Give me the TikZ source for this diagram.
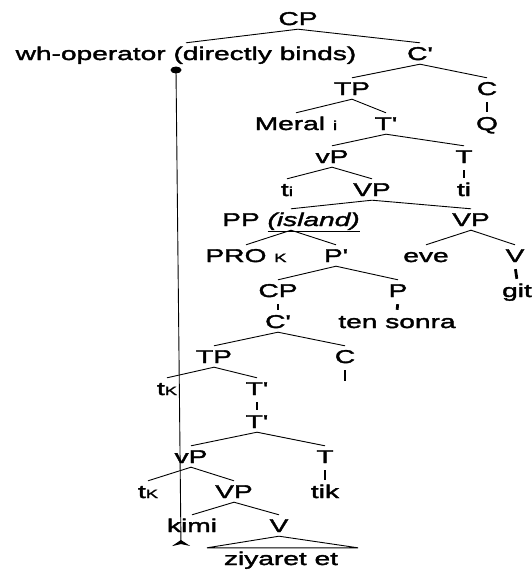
\documentclass[tikz,border=0pt]{standalone}
\usepackage{fontspec}
\setmainfont{Liberation Sans}[FakeStretch=1.52,FakeBold=2,Ligatures=TeXOff]
\usetikzlibrary{arrows.meta}
\newcommand\sm[1]{{\fontsize{13}{14}\selectfont #1}}
\newcommand\smk{{\fontsize{12}{14}\selectfont K}}
\newcommand\pr{'}
\begin{document}
\begin{tikzpicture}[x=1pt,y=-1pt,
  lab/.style={anchor=base, inner xsep=0pt, inner ysep=4pt, text height=13pt, text depth=0pt, font=\fontsize{18.5}{20}\selectfont},
  edge/.style={line width=0.9pt},
  bar/.style={line width=2.8pt, shorten <=3pt, shorten >=1pt},
]
\useasboundingbox (0,0) rectangle (531,570);
\node[lab] (cp) at (298,25) {CP};
\node[lab] (wh) at (186,60) {wh-operator (directly binds)};
\node[lab] (c1) at (420,60) {C\pr};
\node[lab] (tp1) at (352,95) {TP};
\node[lab] (c2) at (487,95) {C};
\node[lab] (meral) at (296,130) {Meral \sm{i}};
\node[lab] (t1) at (386,130) {T\pr};
\node[lab] (q) at (487,130) {Q};
\node[lab] (vp1) at (332,163) {vP};
\node[lab] (t2) at (464,163) {T};
\node[lab] (ti1) at (287,196) {t\sm{i}};
\node[lab] (vpA) at (372,196) {VP};
\node[lab] (ti2) at (464,196) {ti};
\node[lab] (pp) at (291,226) {PP \underline{\textit{(island)}}};
\node[lab] (vpB) at (471,226) {VP};
\node[lab] (pro) at (246,262) {PRO \smk};
\node[lab] (p1) at (336,262) {P\pr};
\node[lab] (eve) at (426,262) {eve};
\node[lab] (v1) at (515,262) {V};
\node[lab] (cp2) at (278,297) {CP};
\node[lab] (p2) at (398,297) {P};
\node[lab] (git) at (517,297) {git};
\node[lab] (c3) at (278,328) {C\pr};
\node[lab] (ts) at (397,328) {ten sonra};
\node[lab] (tp2) at (214,363) {TP};
\node[lab] (c4) at (345,363) {C};
\node[lab] (tk1) at (167,395) {t\smk};
\node[lab] (t3) at (257,395) {T\pr};
\node[lab] (t4) at (257,428) {T\pr};
\node[lab] (vp2) at (191,463) {vP};
\node[lab] (t5) at (325,463) {T};
\node[lab] (tk2) at (148,498) {t\smk};
\node[lab] (vpC) at (234,498) {VP};
\node[lab] (tik) at (325,498) {tik};
\node[lab] (kimi) at (192,532) {kimi};
\node[lab] (v2) at (279,532) {V};
\node[lab] (zet) at (281,565) {ziyaret et};
\coordinate (c4end) at (345,382);
% edges
\draw[edge] (wh.north) -- (cp.south) -- (c1.north);
\draw[edge] (tp1.north) -- (c1.south) -- (c2.north);
\draw[edge] (meral.north) -- (tp1.south) -- (t1.north);
\draw[edge] (vp1.north) -- (t1.south) -- (t2.north);
\draw[edge] (ti1.north) -- (vp1.south) -- (vpA.north);
\draw[edge] (pp.north) -- (vpA.south) -- (vpB.north);
\draw[edge] (pro.north) -- (pp.south) -- (p1.north);
\draw[edge] (eve.north) -- (vpB.south) -- (v1.north);
\draw[edge] (cp2.north) -- (p1.south) -- (p2.north);
\draw[edge] (tp2.north) -- (c3.south) -- (c4.north);
\draw[edge] (tk1.north) -- (tp2.south) -- (t3.north);
\draw[edge] (vp2.north) -- (t4.south) -- (t5.north);
\draw[edge] (tk2.north) -- (vp2.south) -- (vpC.north);
\draw[edge] (kimi.north) -- (vpC.south) -- (v2.north);
\draw[edge] (v2.south) -- ([xshift=-74pt]zet.north) -- ([xshift=77pt]zet.north) -- cycle;
% bars
\draw[bar] (c2.south) -- (q.north);
\draw[bar] (t2.south) -- (ti2.north);
\draw[bar] (v1.south) -- (git.north);
\draw[bar] (cp2.south) -- (c3.north);
\draw[bar] (p2.south) -- (ts.north);
\draw[bar] (c4.south) -- (c4end);
\draw[bar] (t3.south) -- (t4.north);
\draw[bar] (t5.south) -- (tik.north);
% binding arrow
\coordinate (dot) at (176,70);
\coordinate (arrend) at (181,546);
\fill (dot) ellipse (5.5pt and 3.5pt);
\draw[edge, -{Stealth[reversed,length=6pt,width=18pt]}] (dot) -- (arrend);
\end{tikzpicture}
\end{document}
